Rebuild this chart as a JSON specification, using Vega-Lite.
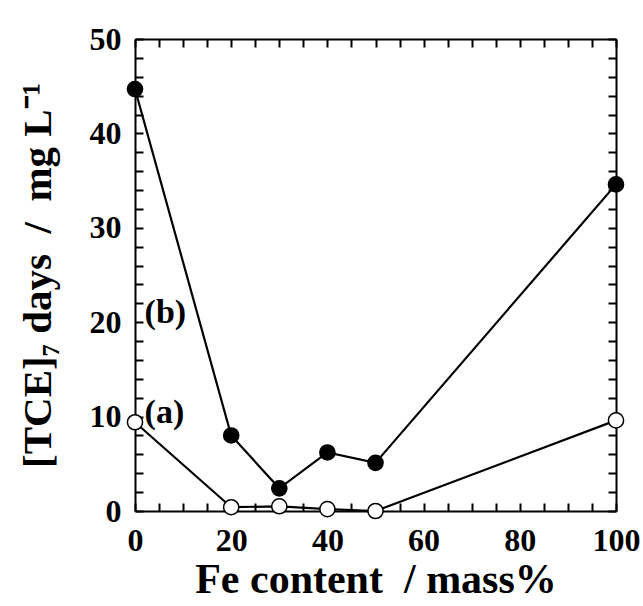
{
  "$schema": "https://vega.github.io/schema/vega-lite/v6.json",
  "width": 481,
  "height": 472,
  "autosize": "none",
  "padding": {"left": 135, "top": 39, "right": 27, "bottom": 95},
  "background": "white",
  "config": {
    "view": {"stroke": null},
    "font": "Liberation Serif",
    "axis": {
      "grid": false,
      "domainColor": "black",
      "domainWidth": 2,
      "ticks": true,
      "tickColor": "black",
      "tickWidth": 2,
      "labelFont": "Liberation Serif",
      "labelFontWeight": "bold",
      "labelFontSize": 32,
      "labelColor": "black",
      "titleFont": "Liberation Serif",
      "titleFontWeight": "bold",
      "titleColor": "black"
    }
  },
  "datasets": {
    "tce": [
      {"fe": 0, "tce": 44.7, "series": "b"},
      {"fe": 20, "tce": 8.0, "series": "b"},
      {"fe": 30, "tce": 2.4, "series": "b"},
      {"fe": 40, "tce": 6.2, "series": "b"},
      {"fe": 50, "tce": 5.1, "series": "b"},
      {"fe": 100, "tce": 34.6, "series": "b"},
      {"fe": 0, "tce": 9.4, "series": "a"},
      {"fe": 20, "tce": 0.4, "series": "a"},
      {"fe": 30, "tce": 0.5, "series": "a"},
      {"fe": 40, "tce": 0.2, "series": "a"},
      {"fe": 50, "tce": 0.0, "series": "a"},
      {"fe": 100, "tce": 9.6, "series": "a"}
    ],
    "labels": [
      {"fe": 2, "tce": 21.0, "label": "(b)"},
      {"fe": 2, "tce": 10.4, "label": "(a)"}
    ]
  },
  "layer": [
    {
      "data": {"name": "tce"},
      "encoding": {
        "x": {
          "field": "fe",
          "type": "quantitative",
          "scale": {"domain": [0, 100], "nice": false, "zero": false},
          "axis": {
            "orient": "bottom",
            "values": [0, 5, 10, 15, 20, 25, 30, 35, 40, 45, 50, 55, 60, 65, 70, 75, 80, 85, 90, 95, 100],
            "labelExpr": "datum.value % 20 === 0 ? datum.label : ''",
            "tickSize": -8,
            "labelPadding": 22,
            "labelFlush": false,
            "labelOverlap": false,
            "title": "Fe content\u00a0\u00a0/ mass%",
            "titleFontSize": 42,
            "titlePadding": 3
          }
        },
        "y": {
          "field": "tce",
          "type": "quantitative",
          "scale": {"domain": [0, 50], "nice": false},
          "axis": {
            "orient": "left",
            "values": [0, 2, 4, 6, 8, 10, 12, 14, 16, 18, 20, 22, 24, 26, 28, 30, 32, 34, 36, 38, 40, 42, 44, 46, 48, 50],
            "labelExpr": "datum.value % 10 === 0 ? datum.label : ''",
            "tickSize": -8,
            "labelPadding": 22,
            "labelFlush": false,
            "labelOverlap": false,
            "title": "[TCE]₇ days\u00a0\u00a0/\u00a0\u00a0mg L⁻¹",
            "titleFontSize": 41,
            "titlePadding": 30
          }
        }
      },
      "layer": [
        {
          "mark": {"type": "line", "color": "black", "strokeWidth": 2.2},
          "encoding": {"detail": {"field": "series"}}
        },
        {
          "mark": {"type": "point", "shape": "circle", "filled": true, "size": 230, "stroke": "black", "strokeWidth": 1.5, "opacity": 1},
          "encoding": {
            "fill": {
              "field": "series",
              "type": "nominal",
              "scale": {"domain": ["a", "b"], "range": ["white", "black"]},
              "legend": null
            }
          }
        }
      ]
    },
    {
      "data": {"name": "labels"},
      "mark": {"type": "text", "align": "left", "baseline": "middle", "font": "Liberation Serif", "fontWeight": "bold", "fontSize": 34, "color": "black"},
      "encoding": {
        "x": {
          "field": "fe",
          "type": "quantitative",
          "scale": {"domain": [0, 100], "nice": false, "zero": false},
          "axis": {
            "orient": "top",
            "values": [0, 5, 10, 15, 20, 25, 30, 35, 40, 45, 50, 55, 60, 65, 70, 75, 80, 85, 90, 95, 100],
            "labels": false,
            "tickSize": -8,
            "title": null
          }
        },
        "y": {
          "field": "tce",
          "type": "quantitative",
          "scale": {"domain": [0, 50], "nice": false},
          "axis": {
            "orient": "right",
            "values": [0, 2, 4, 6, 8, 10, 12, 14, 16, 18, 20, 22, 24, 26, 28, 30, 32, 34, 36, 38, 40, 42, 44, 46, 48, 50],
            "labels": false,
            "tickSize": -8,
            "title": null
          }
        },
        "text": {"field": "label"}
      }
    }
  ],
  "resolve": {"axis": {"x": "independent", "y": "independent"}}
}
